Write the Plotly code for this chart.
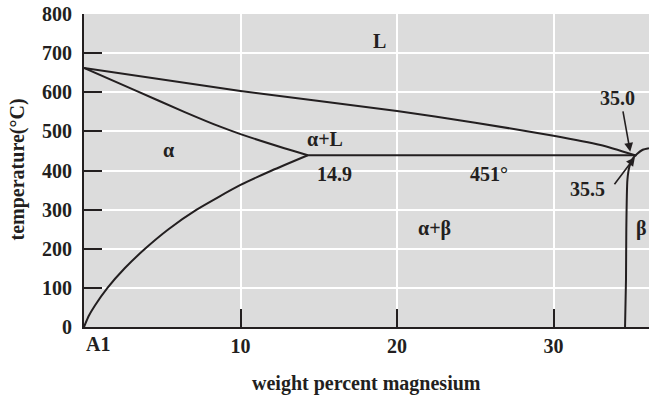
import plotly.graph_objects as go

# ---- data ----
liquidus_x = [0, 10.0, 20.0, 25.0, 30.0, 33.0, 35.2]
liquidus_y = [662, 603, 552, 522, 489, 465, 439]

solidus_x = [0, 3.2, 6.4, 8.7, 10.0, 12.8, 14.3]
solidus_y = [662, 606, 550, 512, 493, 457, 439]

solvus_x = [0, 0.3, 0.7, 1.5, 2.6, 3.9, 5.4, 7.2, 10.0, 12.0, 14.3]
solvus_y = [0, 28, 55, 100, 150, 200, 250, 300, 363, 400, 439]

eutectic_x = [14.3, 35.3]
eutectic_y = [439, 439]

beta_x = [34.57, 34.63, 34.65, 34.72, 34.85, 35.05, 35.35, 35.7, 36.1]
beta_y = [0, 121, 249, 376, 410, 430, 443, 453, 457]

x_tickvals = [0, 10, 20, 30]
x_ticktext = ["", "10", "20", "30"]
y_tickvals = [0, 100, 200, 300, 400, 500, 600, 700, 800]

region_labels = ["L", "α", "α+L", "14.9", "451°", "α+β", "β", "35.5", "35.0"]
region_x = [18.9, 5.4, 15.4, 16.0, 25.9, 22.4, 35.6, 32.2, 34.1]
region_y = [730, 452, 481, 391, 391, 251, 253, 353, 585]

arrow_tail_x = [34.42, 33.82]
arrow_tail_y = [555, 361]
arrow_tip_x = [34.9, 35.2]
arrow_tip_y = [448, 434]

INK = "#231f20"
FONT = "Liberation Serif"

fig = go.Figure()
for xs, ys in [(liquidus_x, liquidus_y), (solidus_x, solidus_y), (solvus_x, solvus_y),
               (eutectic_x, eutectic_y), (beta_x, beta_y)]:
    fig.add_trace(go.Scatter(x=xs, y=ys, mode="lines",
                             line=dict(color=INK, width=2, shape="spline", smoothing=0.6),
                             hoverinfo="skip", showlegend=False))

annotations = []
for t, x, y in zip(region_labels, region_x, region_y):
    annotations.append(dict(x=x, y=y, xref="x", yref="y", text=t, showarrow=False,
                            font=dict(family=FONT, size=20, color=INK, weight="bold")))
for tx, ty, hx, hy in zip(arrow_tail_x, arrow_tail_y, arrow_tip_x, arrow_tip_y):
    annotations.append(dict(x=hx, y=hy, ax=tx, ay=ty, xref="x", yref="y", axref="x", ayref="y",
                            text="", showarrow=True, arrowhead=2, arrowsize=1.1,
                            arrowwidth=1.6, arrowcolor=INK, standoff=0))
annotations.append(dict(x=0, y=0, xref="x", yref="y", text="A1", showarrow=False,
                        xanchor="left", yanchor="top", yshift=-4,
                        font=dict(family=FONT, size=20, color=INK, weight="bold")))
annotations.append(dict(x=0.5, y=-0.18, xref="paper", yref="paper",
                        text="weight percent magnesium", showarrow=False,
                        xanchor="center", yanchor="middle",
                        font=dict(family=FONT, size=20, color=INK, weight="bold")))
annotations.append(dict(x=-0.117, y=0.503, xref="paper", yref="paper",
                        text="temperature(°C)", showarrow=False, textangle=-90,
                        xanchor="center", yanchor="middle",
                        font=dict(family=FONT, size=20, color=INK, weight="bold")))

fig.update_layout(
    width=649, height=397,
    margin=dict(l=84, r=0, t=14, b=70, autoexpand=False),
    paper_bgcolor="white", plot_bgcolor="#dcdcdc",
    annotations=annotations,
    showlegend=False,
)
fig.update_xaxes(range=[0, 36.1], tickvals=x_tickvals, ticktext=x_ticktext,
                 ticks="inside", ticklen=18, tickwidth=1.5, tickcolor=INK,
                 showline=True, linewidth=2, linecolor=INK,
                 showgrid=True, gridcolor="white", gridwidth=1.5, zeroline=False,
                 ticklabelstandoff=0, automargin=False,
                 tickfont=dict(family=FONT, size=20, color=INK, weight="bold"))
fig.update_yaxes(range=[0, 800], tickvals=y_tickvals,
                 ticks="inside", ticklen=18, tickwidth=1.5, tickcolor=INK,
                 showline=True, linewidth=2, linecolor=INK,
                 showgrid=True, gridcolor="white", gridwidth=1.5, zeroline=False,
                 ticklabelstandoff=6, automargin=False,
                 tickfont=dict(family=FONT, size=20, color=INK, weight="bold"))

fig.write_html("out.html", config={"displayModeBar": False},
               post_script="document.body.style.margin='0';document.body.style.overflow='hidden';")
